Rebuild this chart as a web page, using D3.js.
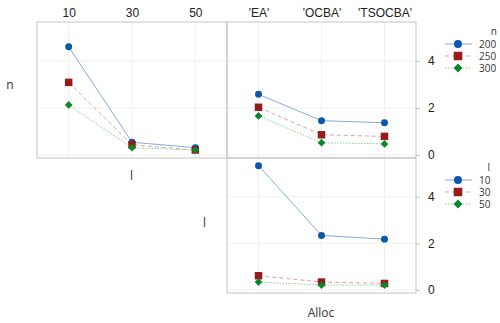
<!DOCTYPE html>
<html lang="en">
<head>
  <meta charset="UTF-8">
  <title>Interaction plot</title>
  <script src="https://d3js.org/d3.v7.min.js"></script>
  <style>
    body { margin: 0; background: #fff; font-family: "Open Sans", "Noto Sans", sans-serif; }
    .frame { fill: none; stroke: #c4c4c4; stroke-width: 1; }
    .grid line { stroke: #f1f1f1; stroke-width: 1; }
    .axis path { display: none; }
    .axis line { stroke: #c4c4c4; }
    .axis text { fill: #222; font-size: 12px; }
    .lbl { fill: #333; font-size: 12px; }
  </style>
</head>
<body>
  <svg width="500" height="323"></svg>
  <script>
    // factor levels
    const lLevels = ["10", "30", "50"];
    const allocLevels = ["'EA'", "'OCBA'", "'TSOCBA'"];
    const nLevels = ["200", "250", "300"];
    const yTicks = [0, 2, 4];

    // top row, grouped by n
    const nByL = [
      [4.61, 0.54, 0.31],
      [3.09, 0.43, 0.21],
      [2.13, 0.31, 0.21]
    ];
    const nByAlloc = [
      [2.58, 1.46, 1.37],
      [2.03, 0.86, 0.79],
      [1.66, 0.52, 0.47]
    ];
    // bottom row, grouped by l
    const lByAlloc = [
      [5.33, 2.34, 2.18],
      [0.61, 0.34, 0.28],
      [0.34, 0.21, 0.21]
    ];

    const styles = [
      { fill: "#0a57ad", line: "#86abdc", dash: null, shape: d3.symbolCircle, size: 38, rot: 0 },
      { fill: "#981b1b", line: "#dea3a3", dash: "4,3", shape: d3.symbolSquare, size: 56, rot: 0 },
      { fill: "#08882a", line: "#8ccf97", dash: "1.5,1.5", shape: d3.symbolSquare, size: 30, rot: 45 }
    ];

    const svg = d3.select("svg");
    const col = [[37, 227], [227, 416]];
    const row = [[22, 158], [158, 293]];
    const yDomain = [-0.13, 5.66];

    function panel(cats, series, c, r, topLabels, rightAxis) {
      const x = d3.scalePoint().domain(cats).range(col[c]).padding(0.5);
      const y = d3.scaleLinear().domain(yDomain).range([row[r][1], row[r][0]]);
      const g = svg.append("g");

      g.append("g").attr("class", "grid")
        .selectAll("line.v").data(cats).join("line")
        .attr("x1", d => x(d)).attr("x2", d => x(d))
        .attr("y1", row[r][0]).attr("y2", row[r][1]);
      g.append("g").attr("class", "grid")
        .selectAll("line.h").data(yTicks).join("line")
        .attr("x1", col[c][0]).attr("x2", col[c][1])
        .attr("y1", d => y(d)).attr("y2", d => y(d));

      g.append("rect").attr("class", "frame")
        .attr("x", col[c][0]).attr("y", row[r][0])
        .attr("width", col[c][1] - col[c][0]).attr("height", row[r][1] - row[r][0]);

      if (topLabels) {
        g.append("g").attr("class", "axis")
          .attr("transform", `translate(0,${row[r][0]})`)
          .call(d3.axisTop(x).tickSize(0).tickPadding(5));
      }
      if (rightAxis) {
        g.append("g").attr("class", "axis")
          .attr("transform", `translate(${col[c][1]},0)`)
          .call(d3.axisRight(y).tickValues(yTicks).tickFormat(d3.format("d")).tickSize(4).tickPadding(8));
      }

      series.forEach((vals, i) => {
        const st = styles[i];
        const pts = vals.map((v, k) => [x(cats[k]), y(v)]);
        g.append("path")
          .attr("d", d3.line()(pts))
          .attr("fill", "none")
          .attr("stroke", st.line)
          .attr("stroke-width", 1)
          .attr("stroke-dasharray", st.dash);
      });
      series.forEach((vals, i) => {
        const st = styles[i];
        g.selectAll(null).data(vals).join("path")
          .attr("transform", (v, k) => `translate(${x(cats[k])},${y(v)}) rotate(${st.rot})`)
          .attr("d", d3.symbol().type(st.shape).size(st.size))
          .attr("fill", st.fill);
      });
    }

    panel(lLevels, nByL, 0, 0, true, false);
    panel(allocLevels, nByAlloc, 1, 0, true, true);
    panel(allocLevels, lByAlloc, 1, 1, false, true);

    // factor labels
    svg.append("text").attr("class", "lbl").attr("x", 10).attr("y", 89)
      .attr("text-anchor", "middle").text("n");
    svg.append("text").attr("class", "lbl").attr("x", 131.5).attr("y", 180)
      .attr("text-anchor", "middle").text("l");
    svg.append("text").attr("class", "lbl").attr("x", 204.5).attr("y", 227)
      .attr("text-anchor", "middle").text("l");
    svg.append("text").attr("class", "lbl").attr("x", 321).attr("y", 317)
      .attr("text-anchor", "middle").text("Alloc");

    function legend(title, labels, top, textRight) {
      const g = svg.append("g");
      labels.forEach((lab, i) => {
        const st = styles[i];
        const yy = top + i * 12;
        g.append("line")
          .attr("x1", 445).attr("x2", 472).attr("y1", yy).attr("y2", yy)
          .attr("stroke", st.line).attr("stroke-dasharray", st.dash);
        g.append("path")
          .attr("transform", `translate(458,${yy}) rotate(${st.rot})`)
          .attr("d", d3.symbol().type(st.shape).size(st.size * 1.3))
          .attr("fill", st.fill);
        g.append("text").attr("x", 479).attr("y", yy + 3.5)
          .attr("fill", "#333").style("font-size", "10px").text(lab);
      });
      g.append("text").attr("x", textRight).attr("y", top - 9)
        .attr("text-anchor", "end").attr("fill", "#333")
        .style("font-size", "10px").text(title);
    }
    legend("n", nLevels, 44, 497);
    legend("l", lLevels, 180, 490);
  </script>
</body>
</html>
